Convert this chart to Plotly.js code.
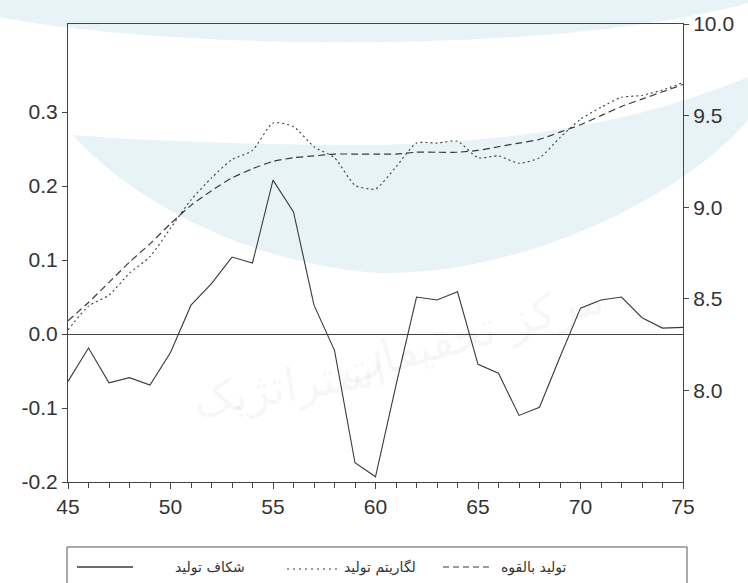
<!DOCTYPE html>
<html>
<head>
<meta charset="utf-8">
<script src="https://cdn.plot.ly/plotly-3.0.1.min.js"></script>
<style>
  html, body { margin: 0; padding: 0; background: #ffffff; }
  #chart { width: 748px; height: 583px; }
</style>
</head>
<body>
<div id="chart"></div>
<script>
// Years (two-digit, 1345–1375)
const years = [45,46,47,48,49,50,51,52,53,54,55,56,57,58,59,60,61,62,63,64,65,66,67,68,69,70,71,72,73,74,75];

// Output gap (left axis)
const outputGap = [-0.064,-0.019,-0.066,-0.059,-0.069,-0.025,0.039,0.068,0.104,0.096,0.208,0.165,0.039,-0.022,-0.174,-0.193,-0.069,0.050,0.046,0.057,-0.041,-0.053,-0.110,-0.099,-0.031,0.035,0.046,0.050,0.022,0.008,0.009];

// Log of output (right axis)
const logOutput = [8.33,8.46,8.52,8.64,8.73,8.885,9.04,9.16,9.26,9.31,9.46,9.44,9.33,9.27,9.12,9.10,9.22,9.35,9.35,9.36,9.27,9.28,9.24,9.27,9.38,9.48,9.545,9.60,9.61,9.64,9.68];

// Potential output (right axis)
const potentialOutput = [8.38,8.48,8.59,8.70,8.80,8.91,9.01,9.09,9.16,9.21,9.25,9.27,9.28,9.29,9.29,9.29,9.29,9.30,9.30,9.30,9.31,9.33,9.35,9.37,9.41,9.45,9.50,9.55,9.59,9.63,9.67];

// Tick labels
const xTicks = [45,50,55,60,65,70,75];
const leftTickVals = [-0.2,-0.1,0.0,0.1,0.2,0.3];
const leftTickText = ["-0.2","-0.1","0.0","0.1","0.2","0.3"];
const rightTickVals = [8.0,8.5,9.0,9.5,10.0];
const rightTickText = ["8.0","8.5","9.0","9.5","10.0"];

// Series names
const nameGap = "شکاف تولید";
const nameLog = "لگاریتم تولید";
const namePot = "تولید بالقوه";

// Watermark text
const wmRight = "مرکز تحقیقات";
const wmLeft = "استراتژیک";

const W = 748, H = 583;
const M = {l: 68, r: 65, t: 24, b: 101};
const PW = W - M.l - M.r, PH = H - M.t - M.b;
// figure pixel -> paper coordinates
const px = x => (x - M.l) / PW;
const py = y => (H - M.b - y) / PH;
function path(cmds) {
  return cmds.map(c => {
    if (typeof c === 'string') return c;
    return px(c[0]).toFixed(4) + ',' + py(c[1]).toFixed(4);
  }).join(' ');
}

const lineCol = '#3a3a3a';

const traces = [
  {x: years, y: outputGap, yaxis: 'y', mode: 'lines', name: nameGap,
   line: {color: lineCol, width: 1.1}},
  {x: years, y: logOutput, yaxis: 'y2', mode: 'lines', name: nameLog,
   line: {color: lineCol, width: 1.1, dash: '2px,3px', shape: 'spline', smoothing: 0.6}},
  {x: years, y: potentialOutput, yaxis: 'y2', mode: 'lines', name: namePot,
   line: {color: lineCol, width: 1.2, dash: '7px,4px', shape: 'spline', smoothing: 0.6}}
];

const tickFont = {family: 'Liberation Sans, Arial, sans-serif', size: 21, color: '#333'};
const faFont = {family: 'DejaVu Sans, sans-serif', size: 14, color: '#333'};
const wmFont = {family: 'DejaVu Sans, sans-serif', size: 46, color: 'rgba(0,0,0,0.055)'};

const shapes = [
  // light blue arc bands in the background
  {type: 'path', xref: 'paper', yref: 'paper', layer: 'below', line: {width: 0},
   fillcolor: '#e8f3f8',
   path: path(['M', [0,17], 'C', [150,48], [550,58], [748,3], 'L', [748,-5], 'L', [0,-5], 'Z'])},
  {type: 'path', xref: 'paper', yref: 'paper', layer: 'below', line: {width: 0},
   fillcolor: '#e8f3f8',
   path: path(['M', [73,135], 'Q', [200,145], [380,145], 'Q', [600,140], [748,77],
               'L', [748,120], 'C', [680,200], [520,275], [380,273],
               'C', [250,265], [130,200], [73,135], 'Z'])},
  // legend frame
  {type: 'rect', xref: 'paper', yref: 'paper', x0: px(67), x1: px(687), y0: py(600), y1: py(547),
   line: {color: '#555', width: 1}, fillcolor: 'rgba(0,0,0,0)'},
  // legend samples
  {type: 'line', xref: 'paper', yref: 'paper', x0: px(77), x1: px(133), y0: py(567), y1: py(567),
   line: {color: lineCol, width: 1.3}},
  {type: 'line', xref: 'paper', yref: 'paper', x0: px(287), x1: px(340), y0: py(569), y1: py(569),
   line: {color: lineCol, width: 1.1, dash: '2px,4px'}},
  {type: 'line', xref: 'paper', yref: 'paper', x0: px(443), x1: px(490), y0: py(567), y1: py(567),
   line: {color: lineCol, width: 1.1, dash: '6px,4px'}}
];

const annotations = [
  {xref: 'paper', yref: 'paper', x: px(247), y: py(567), xanchor: 'right', yanchor: 'middle',
   text: nameGap, showarrow: false, font: faFont},
  {xref: 'paper', yref: 'paper', x: px(342), y: py(567), xanchor: 'left', yanchor: 'middle',
   text: nameLog, showarrow: false, font: faFont},
  {xref: 'paper', yref: 'paper', x: px(499), y: py(567), xanchor: 'left', yanchor: 'middle',
   text: namePot, showarrow: false, font: faFont},
  // faint calligraphic watermark
  {xref: 'paper', yref: 'paper', x: px(612), y: py(400), text: wmRight, showarrow: false,
   textangle: -16, font: wmFont},
  {xref: 'paper', yref: 'paper', x: px(290), y: py(432), text: wmLeft, showarrow: false,
   textangle: -10, font: wmFont}
];

const layout = {
  width: W, height: H,
  margin: M,
  paper_bgcolor: '#ffffff',
  plot_bgcolor: 'rgba(0,0,0,0)',
  showlegend: false,
  xaxis: {
    range: [45, 75], tickvals: xTicks, ticktext: xTicks.map(String),
    showline: true, linecolor: '#444', linewidth: 1, mirror: true,
    ticks: 'outside', ticklen: 6, tickcolor: '#444', tickwidth: 1,
    minor: {dtick: 1, tick0: 45, ticks: 'outside', ticklen: 5, tickcolor: '#444', showgrid: false},
    showgrid: false, zeroline: false, tickfont: tickFont
  },
  yaxis: {
    range: [-0.2, 0.419], tickvals: leftTickVals, ticktext: leftTickText,
    showline: true, linecolor: '#444', linewidth: 1,
    ticks: 'outside', ticklen: 5, tickcolor: '#444',
    showgrid: false, zeroline: true, zerolinecolor: '#444', zerolinewidth: 1,
    tickfont: tickFont
  },
  yaxis2: {
    range: [7.5, 10.0], tickvals: rightTickVals, ticktext: rightTickText,
    overlaying: 'y', side: 'right',
    showline: true, linecolor: '#444', linewidth: 1,
    ticks: 'outside', ticklen: 5, tickcolor: '#444',
    showgrid: false, zeroline: false, tickfont: tickFont
  },
  shapes: shapes,
  annotations: annotations
};

Plotly.newPlot('chart', traces, layout, {displayModeBar: false, staticPlot: true});
</script>
</body>
</html>
